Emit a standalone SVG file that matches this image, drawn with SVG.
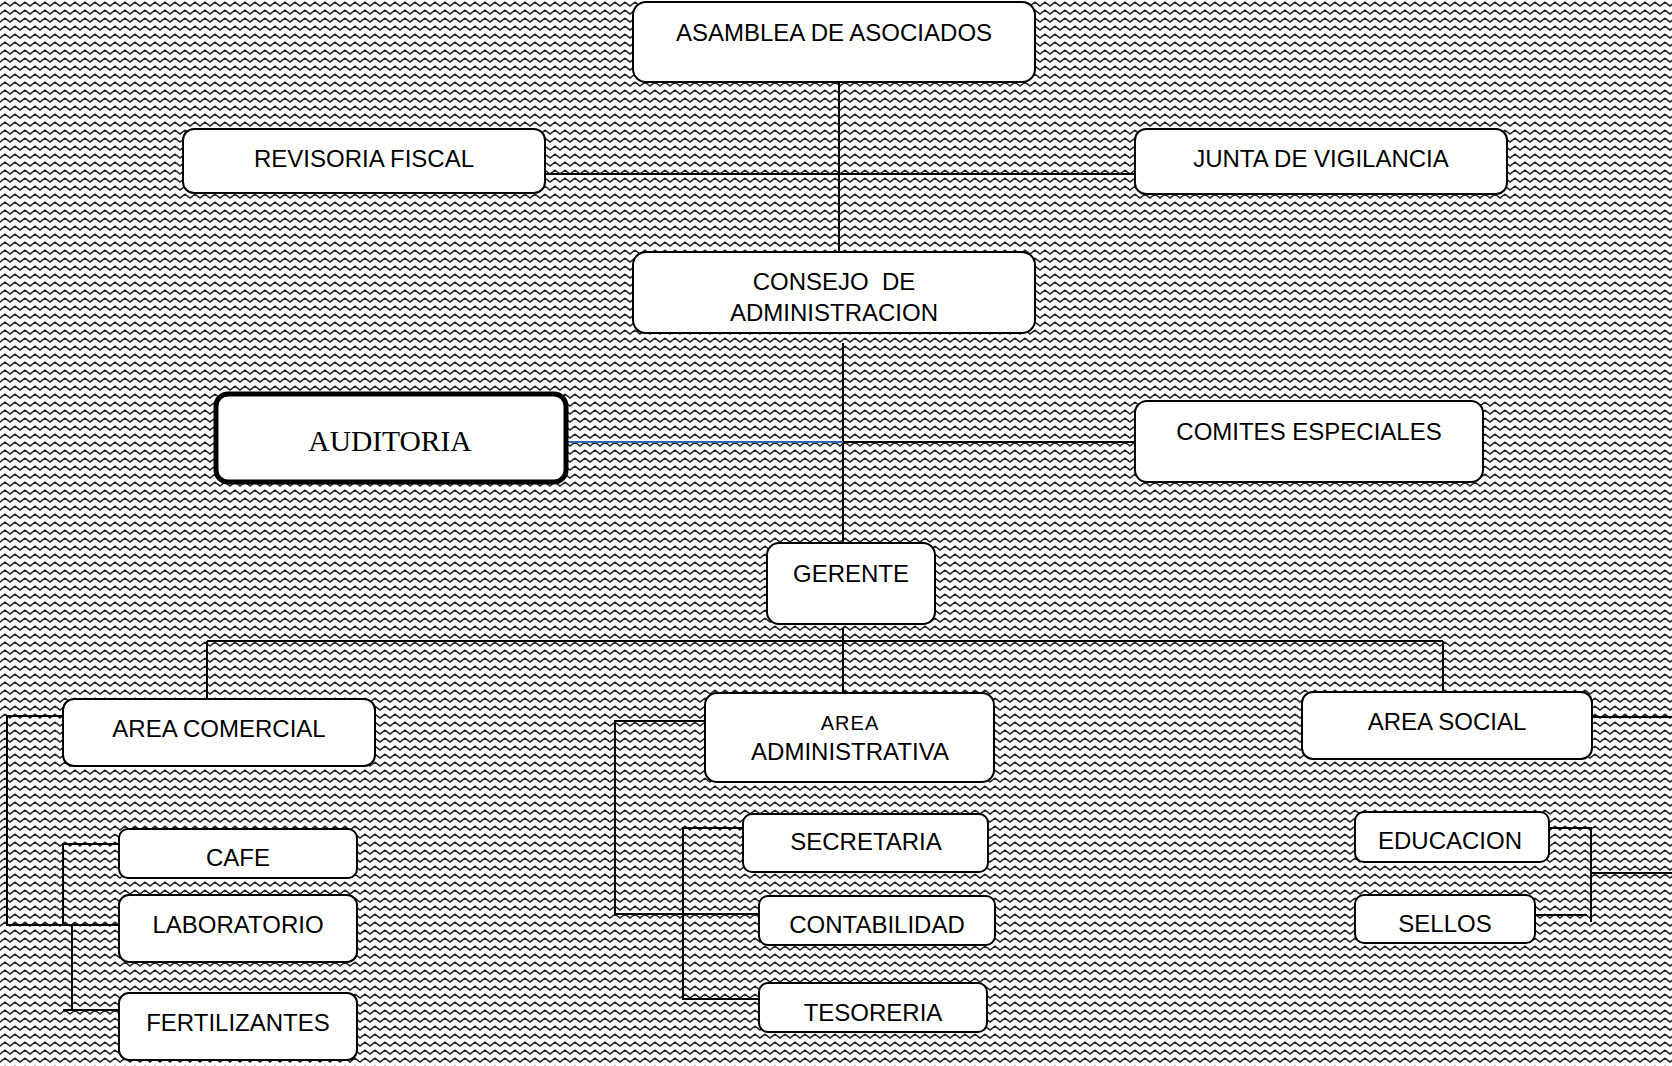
<svg xmlns="http://www.w3.org/2000/svg" width="1672" height="1066" viewBox="0 0 1672 1066">
<defs>
<pattern id="zz" width="10" height="8" patternUnits="userSpaceOnUse">
<rect width="10" height="8" fill="#ffffff"/>
<path d="M-5,2.2 L0,6 L5,2.2 L10,6 L15,2.2" fill="none" stroke="#262626" stroke-width="1.6"/>
</pattern>
<style>
.box{fill:#ffffff;stroke:#000000;stroke-width:2}
.thick{fill:#ffffff;stroke:#000000;stroke-width:5}
.t{font-family:"Liberation Sans",Arial,sans-serif;font-size:24px;fill:#000000;text-anchor:middle}
.s{font-family:"Liberation Serif","Times New Roman",serif;font-size:29.5px;fill:#000000;text-anchor:middle}
.c{fill:none;stroke:#000000;stroke-width:2}
.blue{fill:none;stroke:#2f6cb0;stroke-width:2}
</style>
</defs>
<rect width="1672" height="1066" fill="url(#zz)"/>
<g id="connectors">
<path class="c" d="M839,82 L839,252"/>
<path class="c" d="M545,174 L1135,174"/>
<path class="c" d="M843,343 L843,543"/>
<path class="blue" d="M567,442 L843,442"/>
<path class="c" d="M843,442 L1135,442"/>
<path class="c" d="M843,628 L843,693"/>
<path class="c" d="M207,641 L1443,641"/>
<path class="c" d="M207,641 L207,699"/>
<path class="c" d="M1443,641 L1443,692"/>
<path class="c" d="M63,716 L7,716 L7,925 L119,925"/>
<path class="c" d="M119,844 L63,844 L63,925"/>
<path class="c" d="M72,925 L72,1010"/>
<path class="c" d="M63,1010 L119,1010"/>
<path class="c" d="M705,721 L615,721 L615,914 L759,914"/>
<path class="c" d="M743,828 L683,828 L683,999 L759,999"/>
<path class="c" d="M1592,717 L1672,717"/>
<path class="c" d="M1549,828 L1591,828 L1591,922"/>
<path class="c" d="M1535,915 L1587,915"/>
<path class="c" d="M1591,873 L1672,873"/>
</g>
<g id="asamblea"><rect class="box" x="633" y="2" width="402" height="80" rx="13"/><text class="t" x="834" y="41">ASAMBLEA DE ASOCIADOS</text></g>
<g id="revisoria"><rect class="box" x="183" y="129" width="362" height="64" rx="11"/><text class="t" x="364" y="167">REVISORIA FISCAL</text></g>
<g id="junta"><rect class="box" x="1135" y="129" width="372" height="65" rx="11"/><text class="t" x="1321" y="167">JUNTA DE VIGILANCIA</text></g>
<g id="consejo"><rect class="box" x="633" y="252" width="402" height="81" rx="13"/><text class="t" x="834" y="290" xml:space="preserve">CONSEJO  DE</text><text class="t" x="834" y="321">ADMINISTRACION</text></g>
<g id="auditoria"><rect class="thick" x="216" y="394" width="350" height="88" rx="12"/><text class="s" x="390" y="451">AUDITORIA</text></g>
<g id="comites"><rect class="box" x="1135" y="401" width="348" height="81" rx="12"/><text class="t" x="1309" y="440">COMITES ESPECIALES</text></g>
<g id="gerente"><rect class="box" x="767" y="543" width="168" height="81" rx="12"/><text class="t" x="851" y="582">GERENTE</text></g>
<g id="area-comercial"><rect class="box" x="63" y="699" width="312" height="67" rx="11"/><text class="t" x="219" y="737">AREA COMERCIAL</text></g>
<g id="area-administrativa"><rect class="box" x="705" y="693" width="289" height="89" rx="12"/><text class="t" x="850" y="730" style="font-size:20px;letter-spacing:1px">AREA</text><text class="t" x="850" y="760">ADMINISTRATIVA</text></g>
<g id="area-social"><rect class="box" x="1302" y="692" width="290" height="67" rx="11"/><text class="t" x="1447" y="730">AREA SOCIAL</text></g>
<g id="cafe"><rect class="box" x="119" y="829" width="238" height="49" rx="9"/><text class="t" x="238" y="866">CAFE</text></g>
<g id="laboratorio"><rect class="box" x="119" y="895" width="238" height="67" rx="10"/><text class="t" x="238" y="933">LABORATORIO</text></g>
<g id="fertilizantes"><rect class="box" x="119" y="993" width="238" height="67" rx="10"/><text class="t" x="238" y="1031">FERTILIZANTES</text></g>
<g id="secretaria"><rect class="box" x="743" y="814" width="245" height="58" rx="9"/><text class="t" x="866" y="850">SECRETARIA</text></g>
<g id="contabilidad"><rect class="box" x="759" y="896" width="236" height="49" rx="9"/><text class="t" x="877" y="933">CONTABILIDAD</text></g>
<g id="tesoreria"><rect class="box" x="759" y="983" width="228" height="49" rx="9"/><text class="t" x="873" y="1021">TESORERIA</text></g>
<g id="educacion"><rect class="box" x="1355" y="812" width="194" height="50" rx="9"/><text class="t" x="1450" y="849">EDUCACION</text></g>
<g id="sellos"><rect class="box" x="1355" y="895" width="180" height="48" rx="9"/><text class="t" x="1445" y="932">SELLOS</text></g>
</svg>
